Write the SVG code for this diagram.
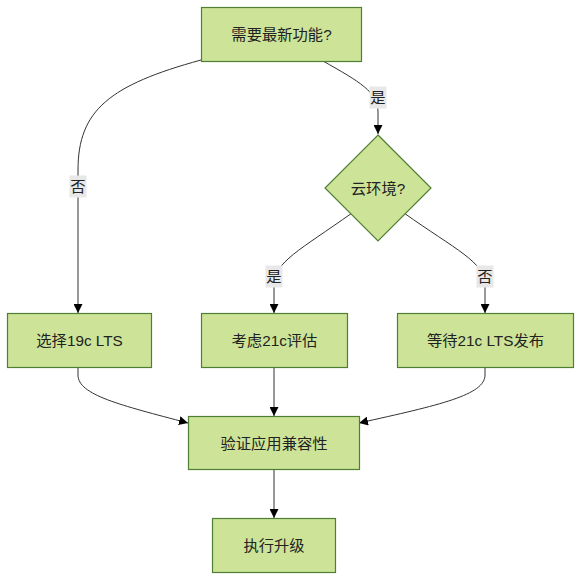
<svg xmlns="http://www.w3.org/2000/svg" width="587" height="588" viewBox="0 0 587 588">
<defs>
<marker id="arr" viewBox="0 0 10 10" refX="10" refY="5" markerWidth="9" markerHeight="9" markerUnits="userSpaceOnUse" orient="auto">
<path d="M0,0 L10,5 L0,10 z" fill="#000"/>
</marker>
</defs>
<style>
.n{fill:#cde498;stroke:#4e7f33;stroke-width:1.2}
.t{font-family:"Liberation Sans","Noto Sans CJK SC",sans-serif;font-size:15.3px;fill:#222;text-anchor:middle;dominant-baseline:central}
.e{fill:none;stroke:#333;stroke-width:1}
.lb{fill:#e8e8e8}
</style>
<rect width="587" height="588" fill="#fff"/>
<g id="edges">
<path class="e" d="M323,61 C360,82 378,92 378,112 L378,134" marker-end="url(#arr)"/>
<path class="e" d="M201,60 C110,85 78,110 78,170 L78,313" marker-end="url(#arr)"/>
<path class="e" d="M352,213 C300,250 274,262 274,285 L274,313" marker-end="url(#arr)"/>
<path class="e" d="M404,213 C456,250 485,262 485,285 L485,313" marker-end="url(#arr)"/>
<path class="e" d="M78,367 L78,375 C78,395 120,405 188,423" marker-end="url(#arr)"/>
<path class="e" d="M274,367 L274,416" marker-end="url(#arr)"/>
<path class="e" d="M485,367 L485,375 C485,395 440,405 359,423" marker-end="url(#arr)"/>
<path class="e" d="M274,469 L274,518" marker-end="url(#arr)"/>
</g>
<g id="labels">
<rect class="lb" x="369.5" y="86.5" width="17" height="22"/>
<text class="t" x="378" y="97.5">是</text>
<rect class="lb" x="69.5" y="175.5" width="17" height="22"/>
<text class="t" x="78" y="186.5">否</text>
<rect class="lb" x="265.5" y="265.5" width="17" height="22"/>
<text class="t" x="274" y="276.5">是</text>
<rect class="lb" x="476.5" y="265.5" width="17" height="22"/>
<text class="t" x="485" y="276.5">否</text>
</g>
<g id="A"><rect class="n" x="201.5" y="7.5" width="160" height="54"/><text class="t" x="281.5" y="34.5">需要最新功能?</text></g>
<g id="B"><polygon class="n" points="378,135 431,188 378,241 325,188"/><text class="t" x="378" y="188">云环境?</text></g>
<g id="C"><rect class="n" x="7.5" y="313.5" width="144" height="54"/><text class="t" x="79.5" y="340.5">选择19c LTS</text></g>
<g id="D"><rect class="n" x="201.5" y="313.5" width="146" height="54"/><text class="t" x="274.5" y="340.5">考虑21c评估</text></g>
<g id="E"><rect class="n" x="397.5" y="313.5" width="176" height="54"/><text class="t" x="485.5" y="340.5">等待21c LTS发布</text></g>
<g id="F"><rect class="n" x="188.5" y="416.5" width="171" height="53"/><text class="t" x="274" y="443">验证应用兼容性</text></g>
<g id="G"><rect class="n" x="212.5" y="518.5" width="123" height="54"/><text class="t" x="274" y="545.5">执行升级</text></g>
</svg>
